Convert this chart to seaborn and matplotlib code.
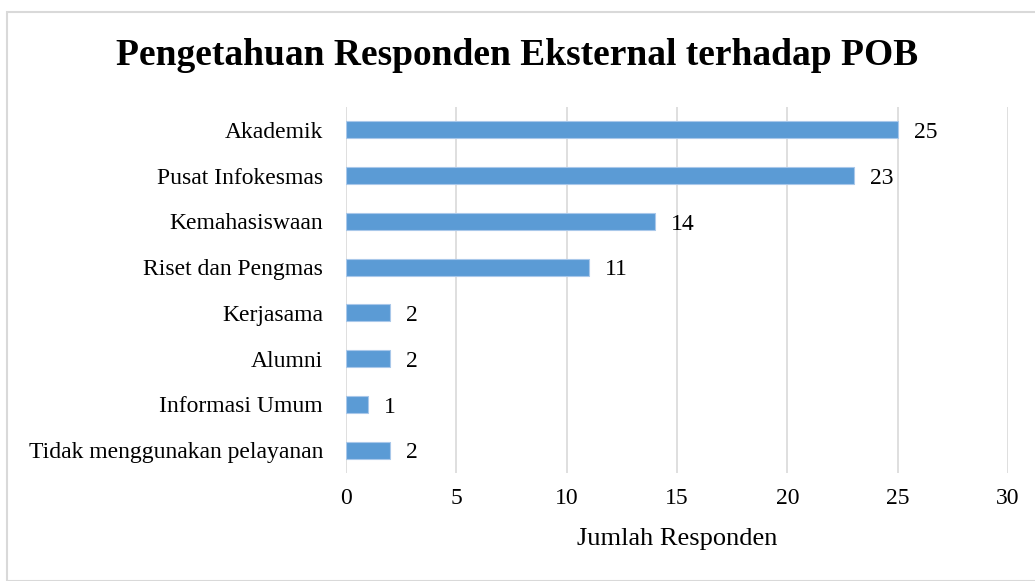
import matplotlib
matplotlib.use("Agg")
import matplotlib.pyplot as plt
import seaborn as sns
import pandas as pd
from matplotlib.patches import Rectangle

categories = ["Akademik", "Pusat Infokesmas", "Kemahasiswaan", "Riset dan Pengmas",
              "Kerjasama", "Alumni", "Informasi Umum", "Tidak menggunakan pelayanan"]
values = [25, 23, 14, 11, 2, 2, 1, 2]
xticks = [0, 5, 10, 15, 20, 25, 30]
title = "Pengetahuan Responden Eksternal terhadap POB"
xlabel = "Jumlah Responden"

df = pd.DataFrame({"cat": categories, "val": values})

sns.set_theme(style="white")
plt.rcParams["font.family"] = ["Liberation Serif", "DejaVu Serif"]

W, H = 1035, 581
fig = plt.figure(figsize=(W / 100, H / 100), dpi=100)
top_px, bot_px = 107, 473
ax = fig.add_axes([346 / W, 1 - bot_px / H, (1008 - 346) / W, (bot_px - top_px) / H])

sns.barplot(data=df, x="val", y="cat", color="#5B9BD5", width=0.37, ax=ax,
            saturation=1, zorder=3, edgecolor="#A9C8EA", linewidth=0.8)

ax.set_xlim(0, 30)
ax.set_ylim(len(categories) - 0.5, -0.5)
ax.set_xticks(xticks)
ax.set_xticklabels([str(t) for t in xticks], fontsize=17, color="#000000")
ax.tick_params(axis="y", labelsize=17, colors="#000000", length=0, pad=16.5)
ax.tick_params(axis="x", length=0, pad=11)
ax.set_ylabel("")
ax.set_xlabel(xlabel, fontsize=19, color="#000000")
ax.xaxis.set_label_coords(0.5, -(539 - bot_px) / (bot_px - top_px))
ax.xaxis.label.set_va("center")
ax.grid(axis="x", color="#D9D9D9", linewidth=1.2, zorder=0)
ax.grid(axis="y", visible=False)
for s in ax.spines.values():
    s.set_visible(False)

for i, v in enumerate(values):
    ax.annotate(str(v), xy=(v, i), xytext=(11.5, -2), textcoords="offset points",
                va="center", ha="left", fontsize=17, color="#000000")

fig.text(0.5, 1 - 65 / H, title, ha="center", va="baseline", fontsize=27,
         fontweight="bold", color="#000000")

fig.patches.append(Rectangle((7 / W, 0), 1.2, 1 - 12 / H, transform=fig.transFigure,
                             fill=False, edgecolor="#D9D9D9", linewidth=1.5))

fig.savefig("out.png", dpi=100)
